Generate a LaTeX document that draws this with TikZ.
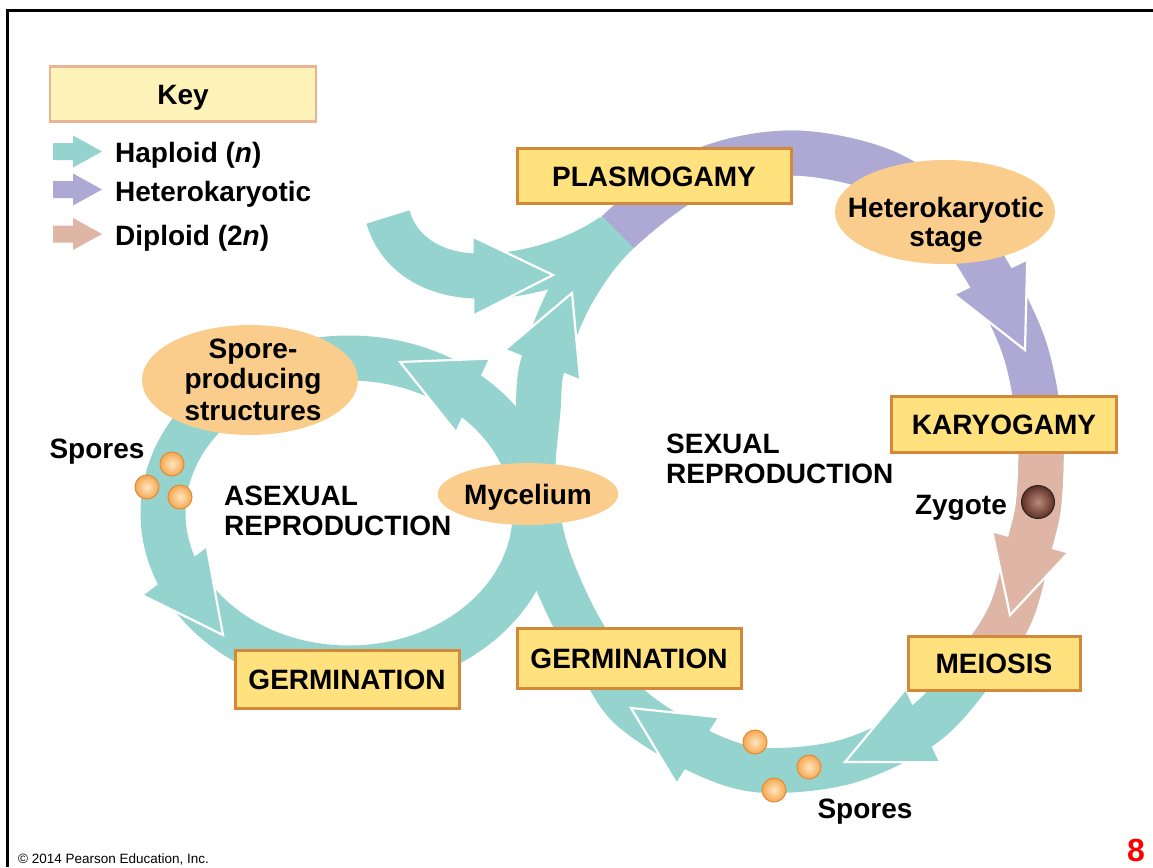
\documentclass[tikz,border=0pt]{standalone}
\usepackage{fontspec}
\setmainfont{Liberation Sans}
\usetikzlibrary{calc,shapes.geometric}
\definecolor{hapl}{HTML}{95D3CF}
\definecolor{hetk}{HTML}{ADA9D4}
\definecolor{dipl}{HTML}{DFB6A6}
\definecolor{boxfill}{HTML}{FFE17E}
\definecolor{boxline}{HTML}{D3883A}
\definecolor{ovalfill}{HTML}{FACD8C}
\definecolor{keyfill}{HTML}{FDF3B8}
\definecolor{keyline}{HTML}{E8B492}
\definecolor{sporein}{HTML}{FFE6C0}
\definecolor{sporeout}{HTML}{F6A851}
\definecolor{sporeline}{HTML}{E08B35}
\definecolor{zygin}{HTML}{B88B7E}
\definecolor{zygout}{HTML}{5E2F24}
\newcommand{\lblfont}{\fontsize{28}{30}\selectfont\bfseries}
\newcommand{\arrowhd}[4]{%
  \fill[#1] ($(#2)!#4!90:(#3)$) -- (#3) -- ($(#2)!#4!-90:(#3)$) -- cycle;
  \draw[white,line width=2.2pt,line join=miter,miter limit=20] ($(#2)!#4!90:(#3)$) -- (#3) -- ($(#2)!#4!-90:(#3)$);}
\newcommand{\legarrow}[2]{%
  \begin{scope}[shift={(0,#2)}]
  \fill[#1] (53,-8.5) -- (73,-8.5) -- (73,-16) -- (102,0) -- (73,16) -- (73,8.5) -- (53,8.5) -- cycle;
  \end{scope}}
\def\sexring{plot[smooth cycle,tension=0.55] coordinates {(533,480) (538,410) (543,364) (572,293) (618,232) (700,172) (790,153) (880,170) (945,213) (991,278) (1025,350) (1040,430) (1039,500) (1030,543) (1010,615) (970,675) (922,726) (845,762) (760,770) (697,750) (631,708) (600,662) (570,610) (545,548)}}
\begin{document}
\begin{tikzpicture}[x=1pt,y=-1pt,
  band/.style={line width=45pt,line cap=butt,line join=round},
  stagebox/.style={draw=boxline,line width=3pt,fill=boxfill,font=\lblfont,inner sep=0pt,text height=20pt,text depth=0pt},
  oval/.style={ellipse,fill=ovalfill,inner sep=0pt},
  lbl/.style={font=\lblfont,inner sep=0pt,text height=20pt,text depth=0pt},
  spore/.style={circle,minimum size=24pt,inner sep=0pt,draw=sporeline,line width=1pt,inner color=sporein,outer color=sporeout}]
\useasboundingbox (0,0) rectangle (1153,867);
\fill[white] (0,0) rectangle (1153,867);
\draw[line width=3pt] (7.5,867) -- (7.5,10.5) -- (1153,10.5);

% key
\node[draw=keyline,line width=2.5pt,fill=keyfill,minimum width=266pt,minimum height=55pt,font=\lblfont,inner sep=0pt,text height=20pt,text depth=0pt] (key) at (183,94) {Key};
\legarrow{hapl}{151.5}
\legarrow{hetk}{189.5}
\legarrow{dipl}{234}
\node[lbl,anchor=west] (haptext) at (115,152) {Haploid (\textit{n})};
\node[lbl,anchor=west] (hettext) at (115,191) {Heterokaryotic};
\node[lbl,anchor=west] (diptext) at (115,235) {Diploid (2\textit{n})};

% bands
\draw[band,hapl] (349,513) ellipse[x radius=186pt,y radius=155pt];
\draw[band,hapl] (388,217) .. controls (398,252) and (430,274) .. (474,276) .. controls (520,278) and (575,262) .. (612,236);
\draw[band,hapl] \sexring;
\begin{scope}
\clip (548,162) -- (718,332) -- (880,425) -- (1150,425) -- (1150,0) -- (548,0) -- cycle;
\draw[band,hetk] \sexring;
\end{scope}
\begin{scope}
\clip (880,425) -- (1150,425) -- (1150,660) -- (880,660) -- cycle;
\draw[band,dipl] \sexring;
\end{scope}

% arrow heads
\arrowhd{hapl}{543,364}{572,293}{40pt}
\arrowhd{hetk}{991,278}{1025,350}{40pt}
\arrowhd{dipl}{1030,543}{1010,615}{39pt}
\arrowhd{hapl}{922,726}{845,762}{40pt}
\arrowhd{hapl}{697,750}{631,708}{39pt}
\arrowhd{hapl}{474,276}{553,275}{39pt}
\arrowhd{hapl}{472,395}{400,362}{40pt}
\arrowhd{hapl}{175,571.5}{223,635}{40pt}

% stages
\node[stagebox,minimum width=274pt,minimum height=55pt] (plasmo) at (654,176) {PLASMOGAMY};
\node[oval,minimum width=220pt,minimum height=104pt] (hetoval) at (945,212) {};
\node[lbl] (hk1) at (946,207) {Heterokaryotic};
\node[lbl] (hk2) at (946,236) {stage};
\node[stagebox,minimum width=225pt,minimum height=56pt] (karyo) at (1004,424) {KARYOGAMY};
\node[circle,minimum size=33pt,inner sep=0pt,draw=black!85,line width=1pt,inner color=zygin,outer color=zygout] (zyg) at (1038,502) {};
\node[lbl,anchor=east] (zygtext) at (1007,504) {Zygote};
\node[stagebox,minimum width=172pt,minimum height=54pt] (meio) at (994,663) {MEIOSIS};
\node[spore] (spb1) at (755,742) {};
\node[spore] (spb2) at (809,767) {};
\node[spore] (spb3) at (774,790) {};
\node[lbl] (sporesB) at (865,808) {Spores};
\node[stagebox,minimum width=224pt,minimum height=60pt] (germR) at (629,658) {GERMINATION};
\node[stagebox,minimum width=224pt,minimum height=58pt] (germL) at (347,679) {GERMINATION};
\node[oval,minimum width=140pt,minimum height=62pt,font=\lblfont,text height=20pt,text depth=0pt] (myc) at (528,494) {Mycelium};
\node[oval,minimum width=216pt,minimum height=110pt] (sporeoval) at (250,380) {};
\node[lbl] (spa) at (253,348) {Spore-};
\node[lbl] (spbx) at (253,378) {producing};
\node[lbl] (spc) at (253,410) {structures};
\node[lbl] (sporesL) at (97,448) {Spores};
\node[spore] (spl1) at (172,464) {};
\node[spore] (spl2) at (147,487) {};
\node[spore] (spl3) at (180,497) {};
\node[lbl,anchor=west] (asex1) at (224,495) {ASEXUAL};
\node[lbl,anchor=west] (asex2) at (224,525) {REPRODUCTION};
\node[lbl,anchor=west] (sex1) at (666,443) {SEXUAL};
\node[lbl,anchor=west] (sex2) at (666,473) {REPRODUCTION};
\node[anchor=base west,font=\fontsize{13.5}{15}\selectfont,inner sep=0pt] (copy) at (18,863) {© 2014 Pearson Education, Inc.};
\node[anchor=base west,font=\fontsize{32}{34}\selectfont\bfseries,text=red,inner sep=0pt] (pnum) at (1127,861) {8};
\end{tikzpicture}
\end{document}
